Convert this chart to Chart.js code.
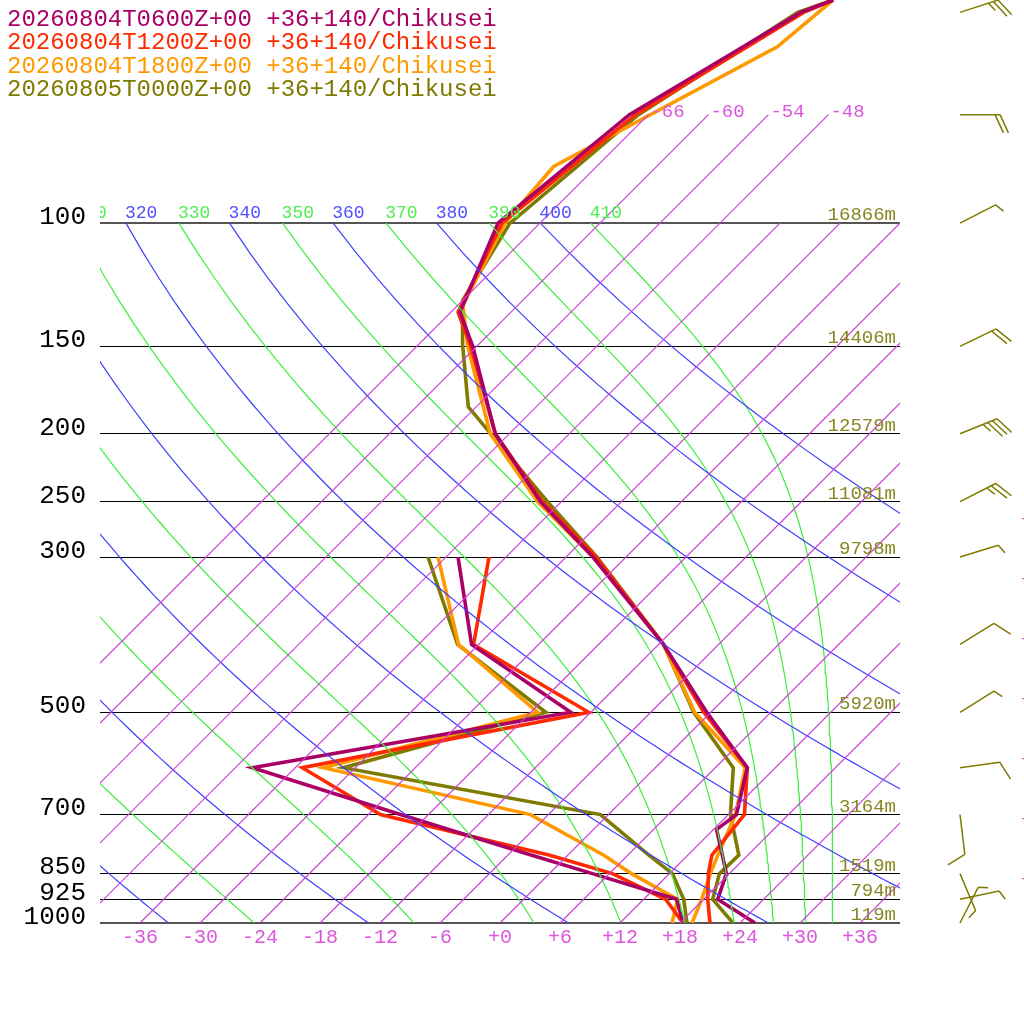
<!DOCTYPE html>
<html><head><meta charset="utf-8">
<script src="https://cdn.jsdelivr.net/npm/chart.js@4.4.1/dist/chart.umd.min.js"></script>
<style>html,body{margin:0;padding:0;background:#fff;}#wrap{width:1024px;height:1024px;}</style>
</head><body><div id="wrap"><canvas id="c" width="1024" height="1024"></canvas></div>
<script>
// ---- series ----
const seriesLabels = ['20260804T0600Z+00 +36+140/Chikusei','20260804T1200Z+00 +36+140/Chikusei','20260804T1800Z+00 +36+140/Chikusei','20260805T0000Z+00 +36+140/Chikusei'];
const seriesColors = ['#aa0066','#ff2a00','#ff9900','#7f7a00'];

// temperature profiles (hPa, degC)
const tempP06 = [1000,925,850,735,700,600,500,400,300,250,200,150,134,100,70,50,48];
const tempT06 = [25.5,19.4,17.7,12.3,12.8,9.2,-0.4,-11.5,-27.3,-38.1,-49.4,-60.4,-65.1,-70.2,-67.9,-61.0,-59.0];
const tempP12 = [1000,925,850,800,700,600,500,400,300,250,200,150,134,100,70,50,48];
const tempT12 = [21.0,18.4,15.9,14.4,13.6,9.2,-0.7,-11.5,-27.0,-37.9,-49.4,-60.6,-65.3,-69.8,-67.3,-60.7,-59.0];
const tempP18 = [1000,925,850,800,700,600,500,400,300,250,200,150,131,100,83,56,48];
const tempT18 = [19.2,17.8,16.1,15.0,12.7,9.0,-1.6,-11.5,-27.3,-38.4,-49.9,-60.9,-65.5,-69.5,-70.3,-59.9,-59.0];
const tempP00 = [1000,925,850,800,700,600,500,400,300,250,183,150,129,100,70,50,48];
const tempT00 = [23.3,18.9,17.0,17.1,12.2,7.8,-1.7,-11.5,-26.9,-37.4,-54.8,-61.4,-66.0,-69.0,-67.0,-61.3,-59.0];

// dewpoint profiles
const dewP = [1000,925,850,800,700,600,500,400,300];
const dewT06 = [18.3,15.3,4.3,-3.6,-20.8,-40.3,-14.0,-30.7,-40.8];
const dewT12 = [18.3,14.2,6.3,-1.8,-22.8,-35.3,-12.2,-30.5,-37.7];
const dewT18 = [17.2,15.4,8.2,3.6,-7.8,-33.2,-17.3,-32.0,-42.8];
const dewT00 = [18.7,16.0,12.3,8.1,-0.8,-31.2,-16.5,-32.1,-43.8];

// winds (last series)
const windP = [1000,925,850,700,600,500,400,300,250,200,150,100,70,50];
const windDir = [27,78,157,173,82,58,58,73,63,68,64,63,90,72];
const windSpd = [5,5,5,10,10,5,10,5,25,35,20,5,20,25];

// axes / labels
const pressureTicks = [1000,925,850,700,500,300,250,200,150,100];
const tempTicks = [-36,-30,-24,-18,-12,-6,0,6,12,18,24,30,36];
const heightLevels = [100,150,200,250,300,500,700,850,925,1000];
const heightLabels = ['16866m','14406m','12579m','11081m','9798m','5920m','3164m','1519m','794m','119m'];

// reference lines
const isotherms = [-66,-60,-54,-48,-42,-36,-30,-24,-18,-12,-6,0,6,12,18,24,30,36];
const isothermTopLabels = [-66,-60,-54,-48];
const dryThetas = [240,260,280,300,320,340,360,380,400];
const moistThetaEs = [250,270,290,310,330,350,370,390,410];

const SKEW = 70; // degC per decade of pressure
function skewX(T, p){ return T + SKEW*Math.log10(1000/p); }
function fmtT(v){ return v>0 ? '+'+v : (v===0 ? '+0' : String(v)); }
function thetaE(Tk, p){
  const Tc = Tk-273.15;
  const es = 6.112*Math.exp(17.67*Tc/(Tc+243.5));
  if (es >= p*0.9) return 1e9;
  const r = 622*es/(p-es);
  return Tk*Math.pow(1000/p, 0.2854*(1-0.00028*r))*Math.exp((3.376/Tk-0.00254)*r*(1+0.00081*r));
}
function moistT(te, p){
  let lo=120, hi=340;
  for (let i=0;i<60;i++){ const m=(lo+hi)/2; if (thetaE(m,p)>te) hi=m; else lo=m; }
  return (lo+hi)/2-273.15;
}
function dryT(th, p){ return th*Math.pow(p/1000,0.2857)-273.15; }

const refP = [];
for (let p=1000; p>=100; p-=10) refP.push(p);

const datasets = [];
isotherms.forEach(T => {
  const top = T <= -48 ? 70 : 100;
  datasets.push({data:[{x:skewX(T,1000),y:1000},{x:skewX(T,top),y:top}], borderColor:'#cc3fd8', borderWidth:1.2, pointRadius:0, showLine:true});
});
dryThetas.forEach(th => {
  datasets.push({data:refP.map(p=>({x:skewX(dryT(th,p),p),y:p})), borderColor:'#3f3fff', borderWidth:1.2, pointRadius:0, showLine:true});
});
moistThetaEs.forEach(te => {
  datasets.push({data:refP.map(p=>({x:skewX(moistT(te,p),p),y:p})), borderColor:'#3cee3c', borderWidth:1.2, pointRadius:0, showLine:true});
});
const tempSets = [[tempP06,tempT06],[tempP12,tempT12],[tempP18,tempT18],[tempP00,tempT00]];
const dewSets = [dewT06,dewT12,dewT18,dewT00];
for (let i=0;i<4;i++){
  const [P,T] = tempSets[i];
  datasets.push({label:seriesLabels[i], data:P.map((p,k)=>({x:skewX(T[k],p),y:p})), borderColor:seriesColors[i], borderWidth:3.6, pointRadius:0, showLine:true, borderJoinStyle:'miter'});
  datasets.push({label:seriesLabels[i]+' dew', data:dewP.map((p,k)=>({x:skewX(dewSets[i][k],p),y:p})), borderColor:seriesColors[i], borderWidth:3.6, pointRadius:0, showLine:true, borderJoinStyle:'miter'});
}

function drawBarb(ctx, x0, y0, dir, spd){
  const a = dir*Math.PI/180;
  const ux = Math.sin(a), uy = -Math.cos(a);
  const L = 40;
  const xe = x0+ux*L, ye = y0+uy*L;
  const r = 65*Math.PI/180;
  const bx = ux*Math.cos(r)-uy*Math.sin(r), by = ux*Math.sin(r)+uy*Math.cos(r);
  ctx.beginPath(); ctx.moveTo(x0,y0); ctx.lineTo(xe,ye);
  let s = Math.round(spd/5)*5, pos = 0;
  while (s >= 10){ const px=xe-ux*pos, py=ye-uy*pos; ctx.moveTo(px,py); ctx.lineTo(px+bx*20,py+by*20); pos+=5; s-=10; }
  if (s >= 5){ const px=xe-ux*pos, py=ye-uy*pos; ctx.moveTo(px,py); ctx.lineTo(px+bx*10,py+by*10); }
  ctx.stroke();
}

const overlay = {
  id:'overlay',
  afterDraw(chart){
    const ctx = chart.ctx, xs = chart.scales.x, ys = chart.scales.y, ca = chart.chartArea;
    ctx.save();
    // theta labels at 100 hPa
    ctx.save();
    ctx.beginPath(); ctx.rect(ca.left, 0, 1024-ca.left, ca.bottom); ctx.clip();
    ctx.font = '18px "Liberation Mono"'; ctx.textAlign='left'; ctx.textBaseline='alphabetic';
    const y100 = ys.getPixelForValue(100);
    dryThetas.forEach(th => { ctx.fillStyle='#5050ff'; ctx.fillText(String(th), xs.getPixelForValue(skewX(dryT(th,100),100))-1, y100-5); });
    moistThetaEs.forEach(te => { ctx.fillStyle='#50ee50'; ctx.fillText(String(te), xs.getPixelForValue(skewX(moistT(te,100),100))-1, y100-5); });
    ctx.restore();
    // isotherm labels at top
    ctx.font = '19px "Liberation Mono"'; ctx.fillStyle='#dd55dd'; ctx.textAlign='left'; ctx.textBaseline='alphabetic';
    isothermTopLabels.forEach(T => { ctx.fillText(fmtT(T), xs.getPixelForValue(skewX(T,70))+2, ys.getPixelForValue(70)+2); });
    // isotherm labels at far right edge
    ctx.textBaseline='middle';
    isotherms.forEach(T => {
      if (T < -24) return;
      const p = 1000*Math.pow(10, -(40-T)/SKEW);
      ctx.fillText(fmtT(T), 1021, ys.getPixelForValue(p)-3);
    });
    // height labels
    ctx.font = '19px "Liberation Mono"'; ctx.fillStyle='#868622'; ctx.textAlign='right'; ctx.textBaseline='alphabetic';
    heightLevels.forEach((p,i) => { ctx.fillText(heightLabels[i], ca.right-4, ys.getPixelForValue(p)-3); });
    // wind barbs
    ctx.strokeStyle = seriesColors[3]; ctx.lineWidth = 1.5;
    windP.forEach((p,i) => drawBarb(ctx, 960, ys.getPixelForValue(p), windDir[i], windSpd[i]));
    // legend
    ctx.font = '24px "Liberation Mono"'; ctx.textAlign='left'; ctx.textBaseline='alphabetic';
    seriesLabels.forEach((s,i) => { ctx.fillStyle = seriesColors[i]; ctx.fillText(s, 7, 26 + i*23.4); });
    ctx.restore();
  }
};

new Chart(document.getElementById('c'), {
  type:'scatter',
  data:{datasets},
  options:{
    responsive:false, animation:false, devicePixelRatio:1,
    layout:{padding:{left:0,right:124,top:0,bottom:0}},
    plugins:{legend:{display:false}, tooltip:{enabled:false}},
    elements:{line:{tension:0}},
    scales:{
      x:{type:'linear', min:-40, max:40, position:'bottom',
        grid:{display:false, drawTicks:false}, border:{display:false},
        ticks:{autoSkip:false, maxRotation:0, padding:3, color:'#dd55dd', font:{family:'Liberation Mono', size:20}, callback:v=>fmtT(v)},
        afterBuildTicks:s=>{ s.ticks = tempTicks.map(v=>({value:v})); },
        afterFit:s=>{ s.height = 101; s.paddingLeft=0; s.paddingRight=0; }
      },
      y:{type:'logarithmic', min:48, max:1000, reverse:true, position:'left',
        grid:{drawTicks:false, color:c=> (c.tick && (c.tick.value===100||c.tick.value===1000)) ? '#555' : '#000', lineWidth:c=> (c.tick && (c.tick.value===100||c.tick.value===1000)) ? 2 : 1},
        border:{display:false},
        ticks:{autoSkip:false, padding:14, labelOffset:-6, color:'#000', font:{family:'Liberation Mono', size:26}, callback:v=>String(v)},
        afterBuildTicks:s=>{ s.ticks = pressureTicks.map(v=>({value:v})); },
        afterFit:s=>{ s.width = 100; s.paddingTop=0; s.paddingBottom=0; }
      }
    }
  },
  plugins:[overlay]
});
</script></body></html>
